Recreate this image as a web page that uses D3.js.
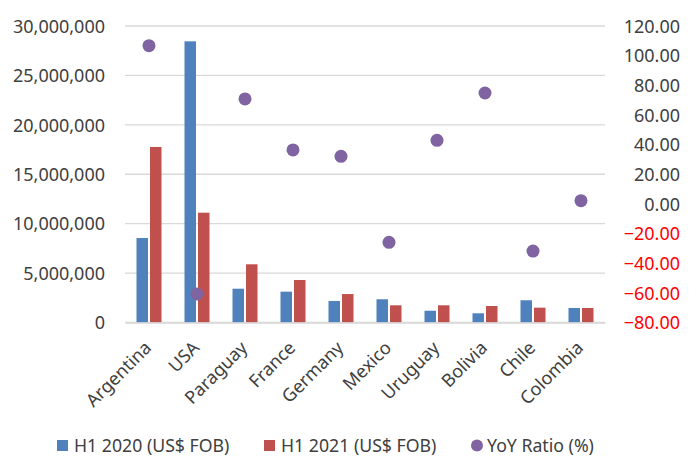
<!DOCTYPE html>
<html><head><meta charset="utf-8">
<script src="https://cdn.jsdelivr.net/npm/d3@7"></script>
<style>body{margin:0;background:#fff}svg{display:block}text{font-family:"Noto Sans",sans-serif}</style>
</head><body>
<svg id="c" width="696" height="457"></svg>
<script>
const categories = ["Argentina","USA","Paraguay","France","Germany","Mexico","Uruguay","Bolivia","Chile","Colombia"];
const h1_2020 = [8550000,28450000,3420000,3120000,2180000,2350000,1190000,930000,2250000,1470000];
const h1_2021 = [17760000,11110000,5890000,4300000,2880000,1740000,1740000,1670000,1500000,1470000];
const yoyRatio = [106.7,-60.8,70.8,36.4,32.1,-25.9,42.9,74.8,-31.8,2.2];
const leftTicks = [0,5000000,10000000,15000000,20000000,25000000,30000000];
const rightTicks = [-80,-60,-40,-20,0,20,40,60,80,100,120];
const seriesNames = ["H1 2020 (US$ FOB)","H1 2021 (US$ FOB)","YoY Ratio (%)"];
const colors = ["#4F81BD","#C0504D","#8064A2"];

const svg = d3.select("#c");
const L = 125, R = 605, T = 26, B = 322.5;
const x0 = d3.scaleBand().domain(categories).range([L,R]).paddingInner(0).paddingOuter(0);
const x1 = d3.scaleBand().domain([0,1]).range([-12.5,12.5]).paddingInner(0.15);
const yL = d3.scaleLinear().domain([0,30000000]).range([B,T]);
const yR = d3.scaleLinear().domain([-80,120]).range([B,T]);

// gridlines
svg.append("g").selectAll("line").data(leftTicks).join("line")
  .attr("x1",L).attr("x2",R).attr("y1",d=>yL(d)).attr("y2",d=>yL(d))
  .attr("stroke","#d9d9d9").attr("stroke-width",1.3);

// left axis
const axL = d3.axisLeft(yL).tickValues(leftTicks).tickFormat(d3.format(",")).tickSize(0).tickPadding(0);
const gL = svg.append("g").attr("transform",`translate(105,0)`).call(axL);
gL.select(".domain").remove();
gL.selectAll("text").attr("font-size",18).attr("fill","#404040").attr("font-family","Noto Sans").attr("dy","0.35em");

// right axis
const axR = d3.axisRight(yR).tickValues(rightTicks).tickFormat(d3.format(".2f")).tickSize(0).tickPadding(0);
const gR = svg.append("g").attr("transform",`translate(680,0)`).call(axR);
gR.select(".domain").remove();
gR.selectAll("text").attr("font-size",18).attr("text-anchor","end").attr("font-family","Noto Sans")
  .attr("fill",d=>d<0?"#FF0000":"#404040").attr("dy","0.35em");

// bars
const series = [h1_2020,h1_2021];
series.forEach((vals,si)=>{
  svg.append("g").selectAll("rect").data(vals).join("rect")
    .attr("x",(d,i)=>x0(categories[i])+x0.bandwidth()/2+x1(si))
    .attr("width",x1.bandwidth())
    .attr("y",d=>yL(d)).attr("height",d=>yL(0)-yL(d))
    .attr("fill",colors[si]);
});

// scatter
svg.append("g").selectAll("circle").data(yoyRatio).join("circle")
  .attr("cx",(d,i)=>x0(categories[i])+x0.bandwidth()/2)
  .attr("cy",d=>yR(d)).attr("r",6.5).attr("fill",colors[2]);

// category labels
const axX = d3.axisBottom(x0).tickSize(0).tickPadding(0);
const gX = svg.append("g").attr("transform",`translate(0,${B})`).call(axX);
gX.select(".domain").attr("stroke","#d9d9d9").attr("stroke-width",1.3);
gX.selectAll(".tick text").attr("font-size",18).attr("fill","#404040").attr("font-family","Noto Sans")
  .attr("text-anchor","end").attr("dy","0.35em").attr("y",0)
  .attr("transform","translate(-1,22) rotate(-45)");

// legend
const lg = svg.append("g");
const legendX = [57,264,471];
const legY = 445.5;
lg.append("rect").attr("x",legendX[0]).attr("y",legY-5.5).attr("width",11).attr("height",11).attr("fill",colors[0]);
lg.append("rect").attr("x",legendX[1]).attr("y",legY-5.5).attr("width",11).attr("height",11).attr("fill",colors[1]);
lg.append("circle").attr("cx",legendX[2]+6).attr("cy",legY).attr("r",6).attr("fill",colors[2]);
const textX = [74,281,487];
seriesNames.forEach((n,i)=>{
  lg.append("text").attr("x",textX[i]).attr("y",legY).attr("dy","0.35em").attr("font-size",17.7).attr("fill","#404040").text(n);
});
</script>
</body></html>
